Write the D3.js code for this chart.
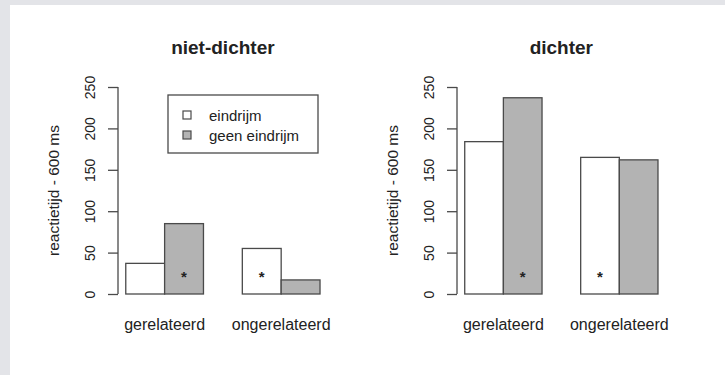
<!DOCTYPE html>
<html>
<head>
<meta charset="utf-8">
<script src="https://cdn.jsdelivr.net/npm/d3@7"></script>
<style>
  html, body { margin: 0; padding: 0; background: #e3e4e8; }
  svg { display: block; }
  text { font-family: "Liberation Sans", Arial, sans-serif; fill: #222; }
</style>
</head>
<body>
<svg id="chart" width="725" height="375"></svg>
<script>
// Reaction time (minus 600 ms) per condition
const panels = ["niet-dichter", "dichter"];
const groups = ["gerelateerd", "ongerelateerd"];
const series = ["eindrijm", "geen eindrijm"];
const valuesNietDichter = [[37, 85], [55, 17]];   // [group][series]
const valuesDichter = [[184, 237], [165, 162]];
// which bar in each group carries a significance asterisk
const starsNietDichter = [[false, true], [true, false]];
const starsDichter = [[false, true], [true, false]];
const starLevel = 25;
const yTicks = [0, 50, 100, 150, 200, 250];
const yLabel = "reactietijd - 600 ms";

const fills = ["#ffffff", "#b3b3b3"];
const strokeCol = "#4a4a4a";

const svg = d3.select("#chart");
svg.append("rect").attr("x", 10).attr("y", 5).attr("width", 715).attr("height", 370).attr("fill", "#ffffff");

const panelData = [
  { title: panels[0], values: valuesNietDichter, stars: starsNietDichter, axisX: 118, unit: 38.85, legend: true },
  { title: panels[1], values: valuesDichter, stars: starsDichter, axisX: 457, unit: 38.65, legend: false }
];

const y = d3.scaleLinear().domain([0, 250]).range([294, 87]);

panelData.forEach(p => {
  // bar units: groups start at 1 and 4, each bar 1 unit wide; plot spans 0.8..6.2
  const x = d3.scaleLinear().domain([0.8, 6.2]).range([p.axisX, p.axisX + 5.4 * p.unit]);
  const g = svg.append("g");

  const bars = [];
  p.values.forEach((vals, gi) => {
    vals.forEach((v, si) => {
      const left = 1 + gi * 3 + si;
      bars.push({ left, v, si, star: p.stars[gi][si] });
    });
  });

  g.selectAll("rect.bar").data(bars).join("rect")
    .attr("class", "bar")
    .attr("x", d => x(d.left))
    .attr("width", d => x(d.left + 1) - x(d.left))
    .attr("y", d => y(d.v))
    .attr("height", d => y(0) - y(d.v))
    .attr("fill", d => fills[d.si])
    .attr("stroke", strokeCol)
    .attr("stroke-width", 1.3);

  g.selectAll("text.star").data(bars.filter(d => d.star)).join("text")
    .attr("class", "star")
    .attr("x", d => x(d.left + 0.5))
    .attr("y", y(starLevel) + 9)
    .attr("text-anchor", "middle")
    .attr("font-size", 15)
    .attr("font-weight", "bold")
    .text("*");

  // y axis (R style: labels parallel to the axis)
  const axis = d3.axisLeft(y).tickValues(yTicks).tickSize(10).tickPadding(0).tickFormat(d3.format("d"));
  const ax = g.append("g").attr("transform", `translate(${p.axisX},0)`).call(axis);
  ax.select(".domain").attr("stroke", strokeCol).attr("stroke-width", 1.3).attr("d", `M0,${y(0)}V${y(250)}`);
  ax.selectAll(".tick line").attr("stroke", strokeCol).attr("stroke-width", 1.3);
  ax.selectAll(".tick text")
    .attr("x", 0).attr("dy", null)
    .attr("transform", "translate(-28,0) rotate(-90)")
    .attr("text-anchor", "middle")
    .attr("dominant-baseline", "central")
    .attr("font-size", 14)
    .attr("fill", "#222");

  g.append("text")
    .attr("transform", `translate(${p.axisX - 65},${(y(0) + y(250)) / 2}) rotate(-90)`)
    .attr("text-anchor", "middle")
    .attr("dominant-baseline", "central")
    .attr("font-size", 15.5)
    .text(yLabel);

  // group labels
  g.selectAll("text.grp").data(groups).join("text")
    .attr("class", "grp")
    .attr("x", (d, i) => x(2 + i * 3))
    .attr("y", 330)
    .attr("text-anchor", "middle")
    .attr("font-size", 16)
    .text(d => d);

  // title
  g.append("text")
    .attr("x", (x(0.8) + x(6.2)) / 2)
    .attr("y", 54)
    .attr("text-anchor", "middle")
    .attr("font-size", 19)
    .attr("font-weight", "bold")
    .text(p.title);

  if (p.legend) {
    const lg = g.append("g");
    lg.append("rect").attr("x", 168).attr("y", 95).attr("width", 150).attr("height", 58)
      .attr("fill", "#fff").attr("stroke", strokeCol).attr("stroke-width", 1.3);
    series.forEach((s, i) => {
      const cy = 115 + i * 20;
      lg.append("rect").attr("x", 183).attr("y", cy - 4).attr("width", 8).attr("height", 8)
        .attr("fill", fills[i]).attr("stroke", strokeCol).attr("stroke-width", 1.2);
      lg.append("text").attr("x", 209).attr("y", cy).attr("dominant-baseline", "central")
        .attr("font-size", 15).text(s);
    });
  }
});
</script>
</body>
</html>
